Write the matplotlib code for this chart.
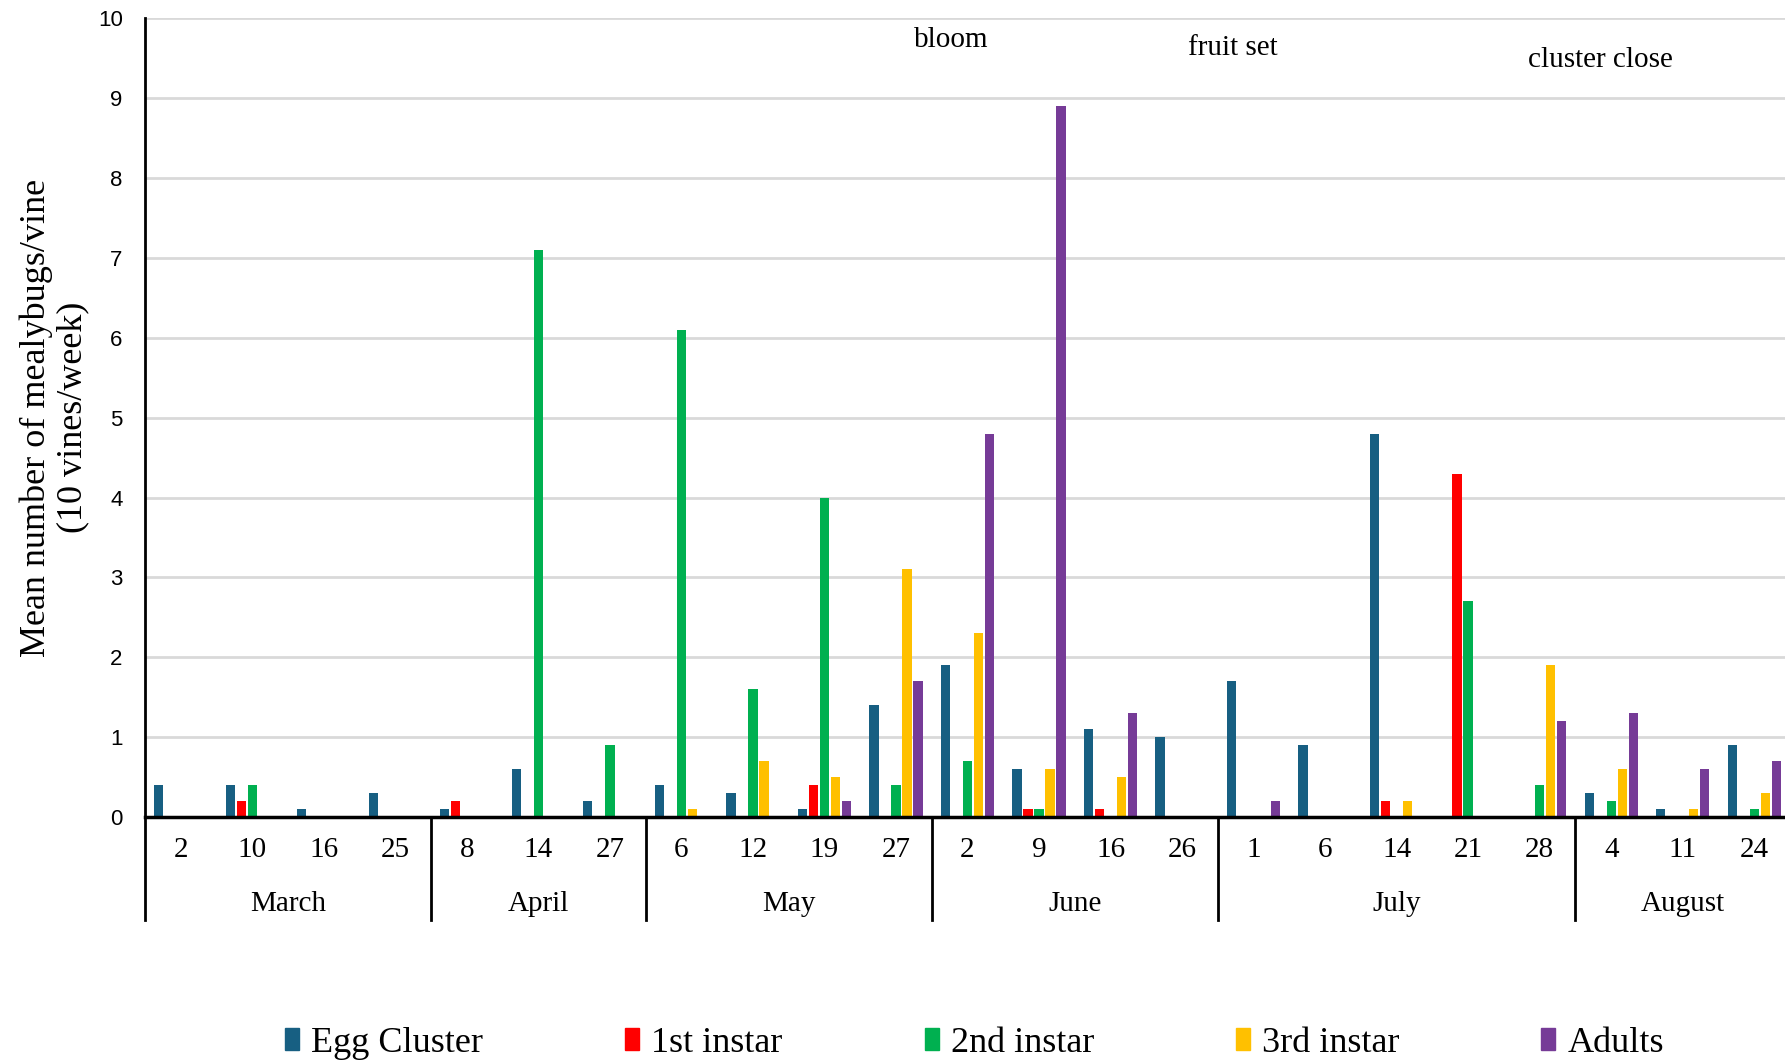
import matplotlib
matplotlib.use("Agg")
import matplotlib.pyplot as plt
import matplotlib.patches as mpatches
import numpy as np

# ── data ─────────────────────────────────────────────────────────
dates  = [2, 10, 16, 25, 8, 14, 27, 6, 12, 19, 27, 2, 9, 16, 26,
          1, 6, 14, 21, 28, 4, 11, 24]
months       = ["March", "April", "May", "June", "July", "August"]
month_counts = [4, 3, 4, 4, 5, 3]

egg    = [0.4, 0.4, 0.1, 0.3, 0.1, 0.6, 0.2, 0.4, 0.3, 0.1, 1.4,
          1.9, 0.6, 1.1, 1.0, 1.7, 0.9, 4.8, 0.0, 0.0, 0.3, 0.1, 0.9]
first  = [0.0, 0.2, 0.0, 0.0, 0.2, 0.0, 0.0, 0.0, 0.0, 0.4, 0.0,
          0.0, 0.1, 0.1, 0.0, 0.0, 0.0, 0.2, 4.3, 0.0, 0.0, 0.0, 0.0]
second = [0.0, 0.4, 0.0, 0.0, 0.0, 7.1, 0.9, 6.1, 1.6, 4.0, 0.4,
          0.7, 0.1, 0.0, 0.0, 0.0, 0.0, 0.0, 2.7, 0.4, 0.2, 0.0, 0.1]
third  = [0.0, 0.0, 0.0, 0.0, 0.0, 0.0, 0.0, 0.1, 0.7, 0.5, 3.1,
          2.3, 0.6, 0.5, 0.0, 0.0, 0.0, 0.2, 0.0, 1.9, 0.6, 0.1, 0.3]
adults = [0.0, 0.0, 0.0, 0.0, 0.0, 0.0, 0.0, 0.0, 0.0, 0.2, 1.7,
          4.8, 8.9, 1.3, 0.0, 0.2, 0.0, 0.0, 0.0, 1.2, 1.3, 0.6, 0.7]

series_names = ["Egg Cluster", "1st instar", "2nd instar", "3rd instar", "Adults"]
series_vals  = [egg, first, second, third, adults]
colors       = ["#175F82", "#FF0000", "#00B050", "#FFC000", "#763B97"]

stages      = ["bloom", "fruit set", "cluster close"]
stage_x     = [10.77, 14.71, 19.85]
stage_y     = [9.72, 9.62, 9.47]

SERIF = "Liberation Serif"
SANS  = "Liberation Sans"

# ── figure ───────────────────────────────────────────────────────
fig = plt.figure(figsize=(17.85, 10.64), dpi=100)
ax = fig.add_axes([0.0812, 0.232, 0.9188, 0.751])

x = np.arange(len(dates))
step, width = 0.154, 0.13
for i, (name, vals, col) in enumerate(zip(series_names, series_vals, colors)):
    ax.bar(x + (i - 2) * step, vals, width, color=col, label=name,
           linewidth=0, zorder=3)

ax.set_xlim(-0.5, 22.43)
ax.set_ylim(0, 10)
ax.set_yticks(range(0, 11))
ax.set_yticklabels([str(v) for v in range(0, 11)], family=SANS, fontsize=16)
ax.tick_params(axis="y", length=0, pad=16)
ax.set_xticks([])
ax.grid(axis="y", color="#D9D9D9", linewidth=2, zorder=0)

for s in ["top", "right"]:
    ax.spines[s].set_visible(False)
ax.spines["left"].set_linewidth(2)
ax.spines["bottom"].set_linewidth(2.5)
ax.spines["left"].set_color("black")
ax.spines["bottom"].set_color("black")
ax.spines["bottom"].set_zorder(4)

# two-level category axis
trans = ax.get_xaxis_transform()
for xi, d in zip(x, dates):
    ax.text(xi, -0.0413, str(d), transform=trans, ha="center", va="center",
            family=SERIF, fontsize=21)

bounds = np.concatenate([[0], np.cumsum(month_counts)]) - 0.5
for k, m in enumerate(months):
    mid = (bounds[k] + bounds[k + 1]) / 2
    ax.text(mid, -0.109, m, transform=trans, ha="center", va="center",
            family=SERIF, fontsize=21)
for b in bounds[:-1]:
    ax.plot([b, b], [0, -0.129], transform=trans, color="black",
            linewidth=2, clip_on=False)

# phenology annotations
for t, sx, sy in zip(stages, stage_x, stage_y):
    ax.text(sx, sy, t, ha="center", va="center", family=SERIF, fontsize=21)

ax.set_ylabel("Mean number of mealybugs/vine\n(10 vines/week)",
              family=SERIF, fontsize=26, labelpad=6, linespacing=1.15)

handles = [mpatches.Patch(color=c, label=n) for n, c in zip(series_names, colors)]
fig.legend(handles=handles, loc="center", bbox_to_anchor=(0.546, 0.0197),
           ncol=5, frameon=False, prop={"family": SERIF, "size": 26},
           handlelength=0.39, handleheight=0.55, handletextpad=0.33,
           columnspacing=3.93)

fig.savefig("out.png", dpi=100)
